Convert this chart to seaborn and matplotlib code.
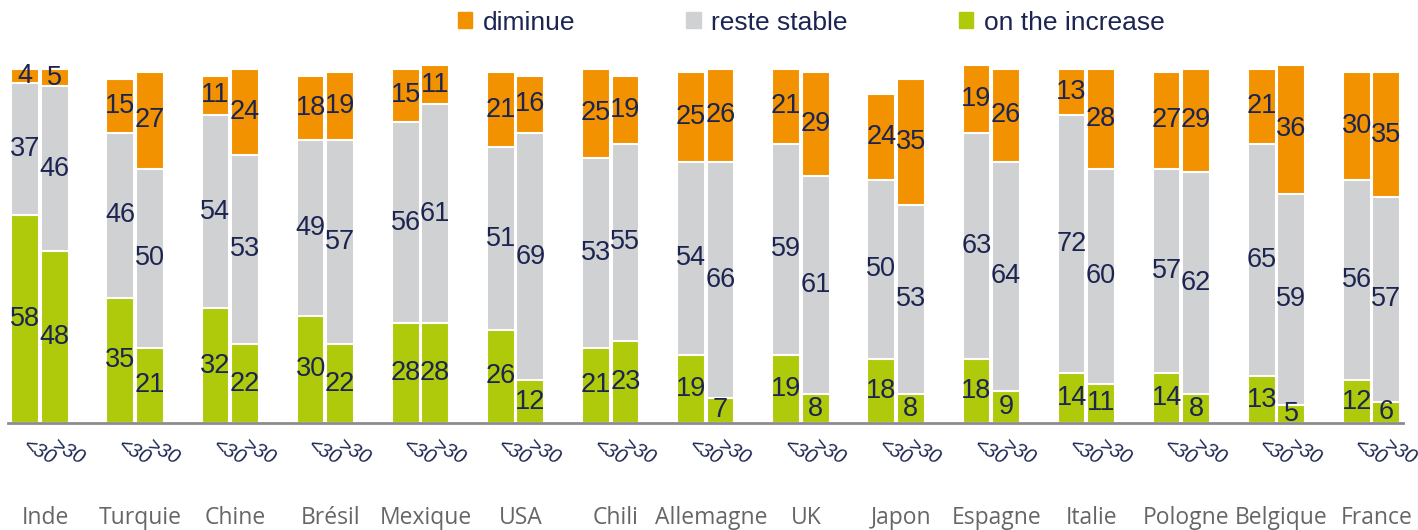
import seaborn as sns
import matplotlib.pyplot as plt
import matplotlib.transforms as mtransforms
from matplotlib.patches import Patch
import pandas as pd
import numpy as np

# données
pays = ['Inde', 'Turquie', 'Chine', 'Brésil', 'Mexique', 'USA', 'Chili', 'Allemagne',
        'UK', 'Japon', 'Espagne', 'Italie', 'Pologne', 'Belgique', 'France']
ages = ['<30', '>30']

hausse_moins30 = [58, 35, 32, 30, 28, 26, 21, 19, 19, 18, 18, 14, 14, 13, 12]
stable_moins30 = [37, 46, 54, 49, 56, 51, 53, 54, 59, 50, 63, 72, 57, 65, 56]
baisse_moins30 = [4, 15, 11, 18, 15, 21, 25, 25, 21, 24, 19, 13, 27, 21, 30]

hausse_plus30 = [48, 21, 22, 22, 28, 12, 23, 7, 8, 8, 9, 11, 8, 5, 6]
stable_plus30 = [46, 50, 53, 57, 61, 69, 55, 66, 61, 53, 64, 60, 62, 59, 57]
baisse_plus30 = [5, 27, 24, 19, 11, 16, 19, 26, 29, 35, 26, 28, 29, 36, 35]

legende = ['diminue', 'reste stable', 'on the increase']

orange = '#F39200'
gris = '#D0D1D3'
vert = '#AFCA0B'
marine = '#1C2551'

df = pd.DataFrame({
    'pays': pays * 2,
    'age': ['<30'] * 15 + ['>30'] * 15,
    'hausse': hausse_moins30 + hausse_plus30,
    'stable': stable_moins30 + stable_plus30,
    'baisse': baisse_moins30 + baisse_plus30,
})
df['niv2'] = df['hausse'] + df['stable']
df['niv3'] = df['niv2'] + df['baisse']

fig = plt.figure(figsize=(14.18, 5.30), dpi=100)
ax = fig.add_axes([8 / 1418, 107 / 530, 1395 / 1418, 358 / 530])

# barres empilées : on superpose les totaux cumulés
couches = [('niv3', orange), ('niv2', gris), ('hausse', vert)]
for col, c in couches:
    sns.barplot(data=df, x='pays', y=col, hue='age', hue_order=ages, order=pays,
                palette=[c, c], saturation=1, dodge=True, width=0.62, gap=0.06,
                errorbar=None, edgecolor='white', linewidth=1.5, legend=False, ax=ax)

# étiquettes des valeurs
for i, (col, c) in enumerate(couches):
    for j, age in enumerate(ages):
        cont = ax.containers[i * 2 + j]
        sub = df[df['age'] == age].set_index('pays').loc[pays]
        for k, bar in enumerate(cont):
            row = sub.iloc[k]
            if col == 'niv3':
                bas, haut, val = row['niv2'], row['niv3'], row['baisse']
            elif col == 'niv2':
                bas, haut, val = row['hausse'], row['niv2'], row['stable']
            else:
                bas, haut, val = 0, row['hausse'], row['hausse']
            ax.text(bar.get_x() + bar.get_width() / 2, (bas + haut) / 2, str(val),
                    ha='center', va='center', fontsize=19.5, color=marine,
                    family='Liberation Sans')

ax.set_xlim(-0.336, 14.33)
ax.set_ylim(0, 100)
ax.set_xlabel('')
ax.set_ylabel('')
ax.set_yticks([])
for s in ['top', 'right', 'left']:
    ax.spines[s].set_visible(False)
ax.spines['bottom'].set_color('#8C8C8C')
ax.spines['bottom'].set_linewidth(2)

# noms des pays
ax.set_xticks(range(len(pays)))
ax.set_xticklabels(pays, fontsize=16.5, color='#666666', family='Open Sans')
ax.tick_params(axis='x', which='major', length=0, pad=60)
decal_p = mtransforms.ScaledTranslation(5 / 100, 0, fig.dpi_scale_trans)
for t in ax.get_xticklabels():
    t.set_transform(t.get_transform() + decal_p)

# tranches d'âge
pos = []
lab = []
for k in range(len(pays)):
    for j, age in enumerate(ages):
        pos.append(k + (j - 0.5) * 0.31)
        lab.append(age)
ax.set_xticks(pos, minor=True)
ax.set_xticklabels(lab, minor=True, fontsize=14.5, color=marine, style='italic',
                   rotation=-28, family='Liberation Sans')
ax.tick_params(axis='x', which='minor', length=0, pad=9)
decal = mtransforms.ScaledTranslation(14 / 100, 0, fig.dpi_scale_trans)
for t in ax.get_xticklabels(minor=True):
    t.set_transform(t.get_transform() + decal)

# légende
poignees = [Patch(color=orange), Patch(color=gris), Patch(color=vert)]
fig.legend(poignees, legende, loc='upper center', bbox_to_anchor=(0.572, 1.025),
           ncol=3, frameon=False, handlelength=0.55, handleheight=0.55,
           handletextpad=0.4, columnspacing=4.2,
           prop={'family': 'Liberation Sans', 'size': 19}, labelcolor=marine)

plt.savefig('out.png', dpi=100)
